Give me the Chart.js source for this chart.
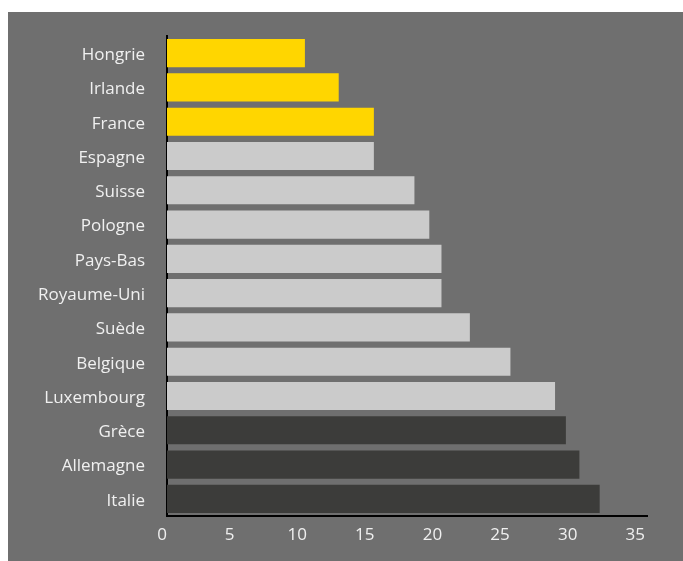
<!DOCTYPE html>
<html lang="fr">
<head>
<meta charset="utf-8">
<title>Pays</title>
<script src="https://cdn.jsdelivr.net/npm/chart.js@4/dist/chart.umd.min.js"></script>
<style>
    html, body { margin: 0; padding: 0; background: #ffffff; }
    #panel {
        position: absolute;
        left: 8px; top: 12px;
        width: 675px; height: 549px;
        background: #6f6f6f;
    }
</style>
</head>
<body>
<div id="panel"><canvas id="chart" width="675" height="549"></canvas></div>
<script>
// Données du graphique
const pays = ['Hongrie', 'Irlande', 'France', 'Espagne', 'Suisse', 'Pologne', 'Pays-Bas',
    'Royaume-Uni', 'Suède', 'Belgique', 'Luxembourg', 'Grèce', 'Allemagne', 'Italie'];
const valeurs = [10.2, 12.7, 15.3, 15.3, 18.3, 19.4, 20.3, 20.3, 22.4, 25.4, 28.7, 29.5, 30.5, 32.0];
// groupe de chaque barre : 'j' jaune, 'c' clair, 'f' foncé
const groupes = ['j', 'j', 'j', 'c', 'c', 'c', 'c', 'c', 'c', 'c', 'c', 'f', 'f', 'f'];
const ticksX = [0, 5, 10, 15, 20, 25, 30, 35];

const couleurs = { j: '#ffd600', c: '#cbcbcb', f: '#3c3c3a' };
const texte = '#f0f0f0';
const police = { family: '"Open Sans", "DejaVu Sans", sans-serif', size: 17 };

new Chart(document.getElementById('chart'), {
    type: 'bar',
    data: {
        labels: pays,
        datasets: [{
            data: valeurs,
            backgroundColor: groupes.map(g => couleurs[g]),
            borderWidth: 0,
            barPercentage: 0.82,
            categoryPercentage: 1
        }]
    },
    options: {
        indexAxis: 'y',
        responsive: false,
        animation: false,
        layout: { padding: { top: 24, right: 36, left: 0, bottom: 0 } },
        plugins: {
            legend: { display: false },
            tooltip: { enabled: false }
        },
        scales: {
            x: {
                min: 0,
                max: 35.5,
                afterBuildTicks: scale => { scale.ticks = ticksX.map(v => ({ value: v })); },
                grid: { display: false, drawTicks: false },
                border: { display: true, color: '#000000', width: 2 },
                ticks: {
                    color: texte,
                    font: police,
                    padding: 9,
                    labelOffset: -5,
                    maxRotation: 0
                },
                afterFit: scale => { scale.height = 45; }
            },
            y: {
                grid: { display: false, drawTicks: false },
                border: { display: true, color: '#000000', width: 2 },
                ticks: {
                    color: texte,
                    font: police,
                    padding: 22,
                    labelOffset: 2,
                    autoSkip: false
                },
                afterFit: scale => {
                    scale.width = 159;
                    scale.paddingTop = 0;
                    scale.paddingBottom = 0;
                }
            }
        }
    }
});
</script>
</body>
</html>
